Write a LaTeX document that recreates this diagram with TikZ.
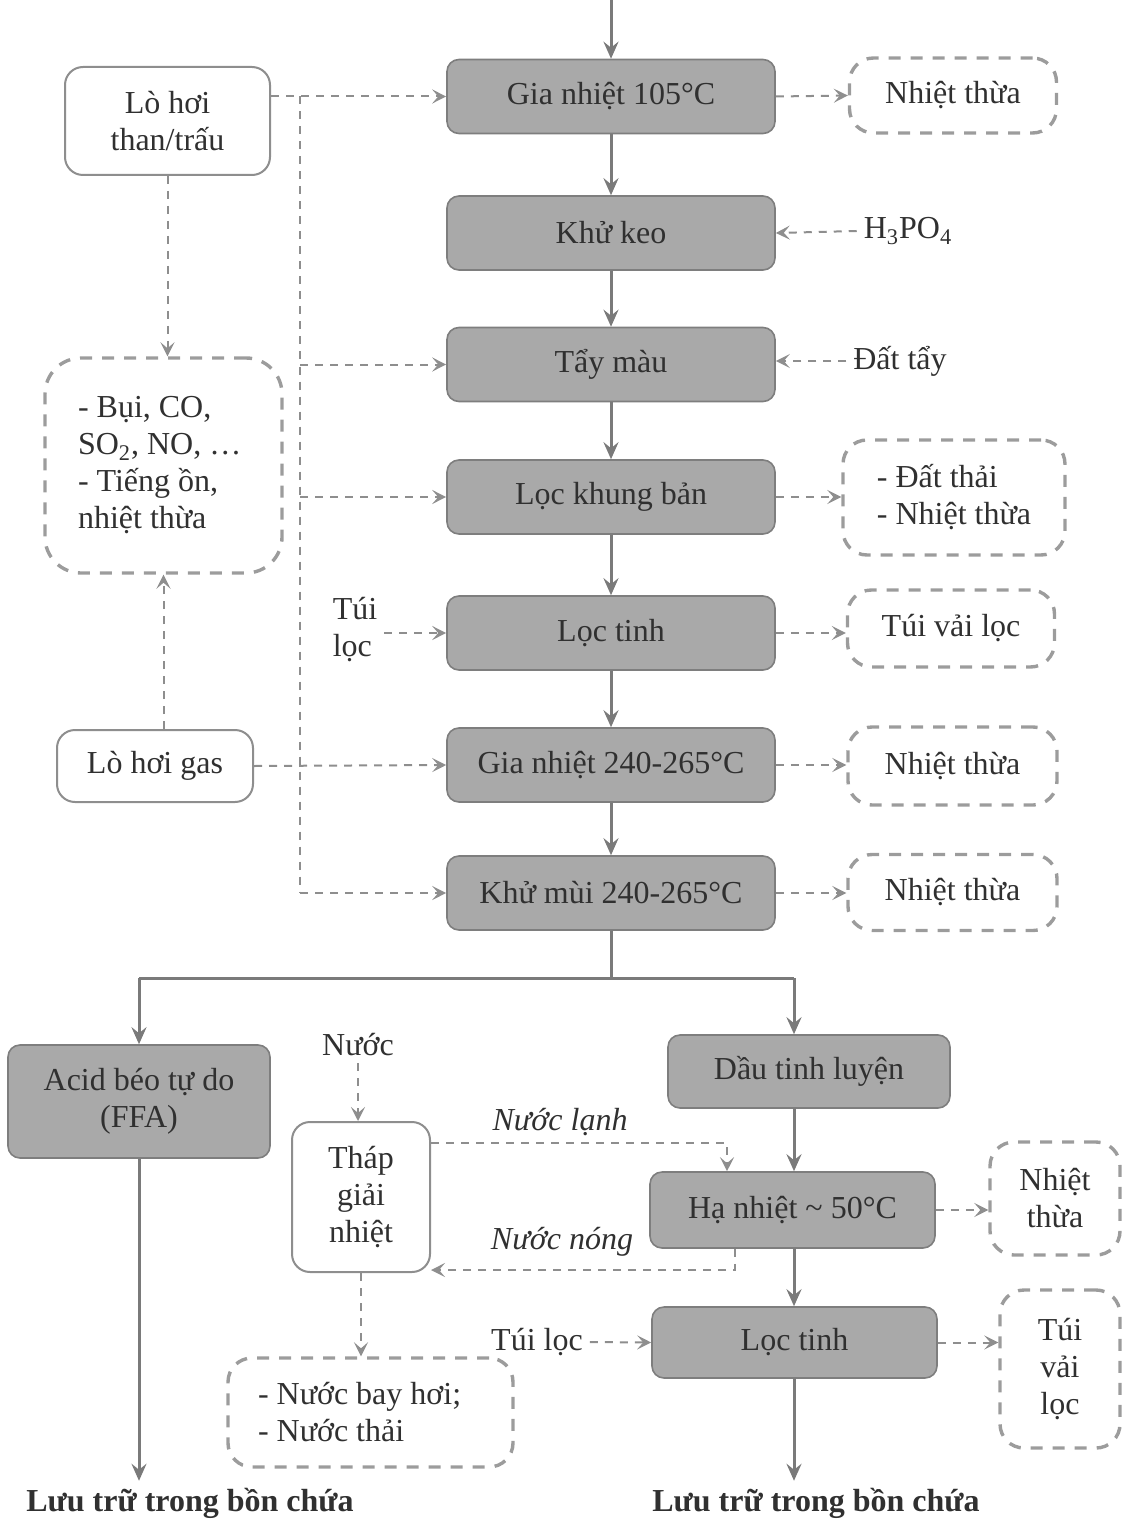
\documentclass[tikz,border=0pt]{standalone}
\usepackage{fontspec}
\setmainfont{Liberation Serif}
\usetikzlibrary{arrows.meta,calc}
\definecolor{boxfill}{HTML}{A9A9A9}
\definecolor{boxline}{HTML}{7E7E7E}
\definecolor{txt}{HTML}{303030}
\definecolor{lncol}{HTML}{7A7A7A}
\definecolor{dlcol}{HTML}{8E8E8E}
\definecolor{obcol}{HTML}{9C9C9C}
\newcommand{\myfs}{\fontsize{16}{18.5}\selectfont}
\begin{document}
\begin{tikzpicture}[x=0.5pt,y=-0.5pt,
  every node/.style={text=txt, font=\myfs},
  proc/.style={draw=boxline, line width=0.8pt, fill=boxfill, rounded corners=6pt,
    minimum width=164pt, minimum height=37pt, inner sep=0pt, align=center},
  wbox/.style={draw=dlcol, line width=1pt, rounded corners=9pt, fill=white,
    inner sep=0pt, align=center},
  obox/.style={draw=obcol, line width=1.7pt, dash pattern=on 6pt off 5pt,
    rounded corners=12pt, inner sep=0pt, align=center},
  itlabel/.style={font=\myfs\itshape},
  boldlabel/.style={font=\fontsize{16}{19}\selectfont\bfseries},
  solline/.style={draw=lncol, line width=1.5pt},
  sol/.style={solline, -{Stealth[length=8.5pt,width=7.5pt,inset=3pt]}},
  dshline/.style={draw=dlcol, line width=1pt, dash pattern=on 4pt off 3.5pt},
  dsh/.style={dshline, -{Stealth[length=7pt,width=7pt,inset=3pt]}}
]
\useasboundingbox (0,0) rectangle (1122,1524);

% main column
\node[proc] (g1) at (611,96.5) {Gia nhiệt 105°C};
\node[proc] (kk) at (611,233) {Khử keo};
\node[proc] (tm) at (611,364.5) {Tẩy màu};
\node[proc] (lkb) at (611,497) {Lọc khung bản};
\node[proc] (lt) at (611,633) {Lọc tinh};
\node[proc] (g2) at (611,765) {Gia nhiệt 240-265°C};
\node[proc] (km) at (611,893) {Khử mùi 240-265°C};

% right outputs
\node[obox, minimum width=103.5pt, minimum height=37.5pt] (o1) at (953,95.5) {Nhiệt thừa};
\node (h3) at (908,231) {H\textsubscript{3}PO\textsubscript{4}};
\node (dt) at (900,361) {Đất tẩy};
\node[obox, minimum width=111pt, minimum height=57.5pt, align=flush left] (o3) at (954,497.5) {- Đất thải\\- Nhiệt thừa};
\node[obox, minimum width=103.5pt, minimum height=38.5pt] (o4) at (951,628.5) {Túi vải lọc};
\node[obox, minimum width=104.5pt, minimum height=39pt] (o5) at (952.5,766) {Nhiệt thừa};
\node[obox, minimum width=104.5pt, minimum height=38pt] (o6) at (952.5,892.5) {Nhiệt thừa};

% left
\node[wbox, minimum width=102.5pt, minimum height=54pt] (lt1) at (167.5,121) {Lò hơi\\than/trấu};
\node[obox, rounded corners=18pt, minimum width=118.5pt, minimum height=107.5pt,
  text width=85.5pt, align=flush left] (em) at (163.5,465.5) {- Bụi, CO,\\SO\textsubscript{2}, NO, …\\- Tiếng ồn,\\nhiệt thừa};
\node[wbox, minimum width=98pt, minimum height=36pt] (lg) at (155,766) {Lò hơi gas};
\node[align=flush left] (tl) at (355,630) {Túi\\lọc};

% main solid flow
\coordinate (top) at (611,0);
\draw[sol] (top) -- (g1.north);
\draw[sol] (g1.south) -- (kk.north);
\draw[sol] (kk.south) -- (tm.north);
\draw[sol] (tm.south) -- (lkb.north);
\draw[sol] (lkb.south) -- (lt.north);
\draw[sol] (lt.south) -- (g2.north);
\draw[sol] (g2.south) -- (km.north);

% outputs / inputs right
\draw[dsh] (g1.east) -- (o1.west);
\draw[dsh] (h3.west) -- (kk.east);
\draw[dsh] (dt.west) -- (tm.east |- dt.west);
\draw[dsh] (lkb.east) -- (lkb.east -| o3.west);
\draw[dsh] (lt.east) -- (lt.east -| o4.west);
\draw[dsh] (g2.east) -- (g2.east -| o5.west);
\draw[dsh] (km.east) -- (km.east -| o6.west);

% steam bus
\coordinate (bx) at (300,96.5);
\draw[dsh] (lt1.east |- g1.west) -- (g1.west);
\draw[dshline] (bx) -- (bx |- km.west);
\draw[dsh] (bx |- km.west) -- (km.west);
\draw[dsh] (bx |- tm.west) -- (tm.west);
\draw[dsh] (bx |- lkb.west) -- (lkb.west);
\draw[dsh] (lg.east) -- (g2.west);
\draw[dsh] (tl.east |- lt.west) -- (lt.west);
\draw[dsh] (lt1.south) -- (lt1.south |- em.north);
\draw[dsh] (em.south |- lg.north) -- (em.south);

% bottom part
\node[proc, minimum width=131pt, minimum height=56.5pt] (ffa) at (139,1101.5) {Acid béo tự do\\(FFA)};
\node[proc, minimum width=141pt, minimum height=36.5pt] (dau) at (809,1071.5) {Dầu tinh luyện};
\node[proc, minimum width=142.5pt, minimum height=38pt] (ha) at (792.5,1210) {Hạ nhiệt \textasciitilde{} 50°C};
\node[proc, minimum width=142.5pt, minimum height=35.5pt] (lt2) at (794.5,1342.5) {Lọc tinh};
\node[wbox, minimum width=69pt, minimum height=75pt] (thap) at (361,1197) {Tháp\\giải\\nhiệt};
\node (nuoc) at (358,1045) {Nước};
\node[itlabel] (nl) at (560,1122) {Nước lạnh};
\node[itlabel] (nn) at (562,1242) {Nước nóng};
\node[obox, minimum width=65pt, minimum height=56.5pt] (o7) at (1055,1198.5) {Nhiệt\\thừa};
\node[obox, minimum width=60pt, minimum height=79pt] (o8) at (1060,1369) {Túi\\vải\\lọc};
\node (tl2) at (537,1342) {Túi lọc};
\node[obox, minimum width=142.5pt, minimum height=54.5pt, text width=112.5pt, align=flush left] (nbh) at (370.5,1412.5) {- Nước bay hơi;\\- Nước thải};
\node[boldlabel] (luu1) at (190,1503) {Lưu trữ trong bồn chứa};
\node[boldlabel] (luu2) at (816,1503) {Lưu trữ trong bồn chứa};

\coordinate (sl) at (139,978);
\coordinate (sr) at (794,978);
\draw[solline] (km.south) -- (km.south |- sl);
\draw[solline] (sl) -- (sr);
\draw[sol] (sl) -- (ffa.north);
\draw[sol] (sr) -- (sr |- dau.north);
\draw[sol] (sr |- dau.south) -- (sr |- ha.north);
\draw[sol] (sr |- ha.south) -- (sr |- lt2.north);
\draw[sol] (sr |- lt2.south) -- (sr |- luu2.north);
\draw[sol] (ffa.south) -- (ffa.south |- luu1.north);

\coordinate (hx) at (727,1143);
\coordinate (hn) at (735,1270);
\draw[dsh] (thap.east |- hx) -- (hx) -- (hx |- ha.north);
\draw[dsh] (hn |- ha.south) -- (hn) -- (hn -| thap.east);
\draw[dsh] (nuoc.south) -- (nuoc.south |- thap.north);
\draw[dsh] (thap.south) -- (thap.south |- nbh.north);
\draw[dsh] (tl2.east) -- (lt2.west);
\draw[dsh] (ha.east) -- (ha.east -| o7.west);
\draw[dsh] (lt2.east) -- (lt2.east -| o8.west);
\end{tikzpicture}
\end{document}
